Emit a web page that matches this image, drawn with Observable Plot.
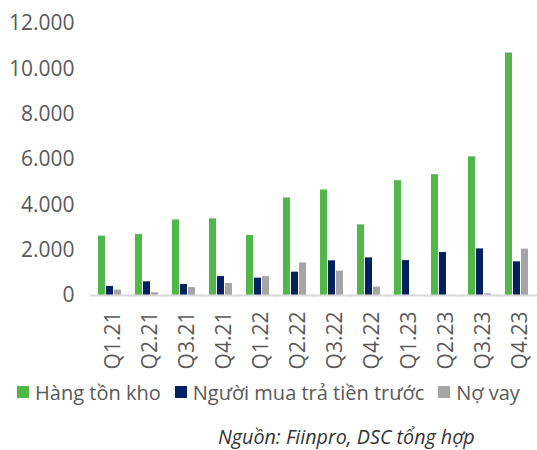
<!DOCTYPE html>
<html>
<head>
<meta charset="utf-8">
<script src="https://cdn.jsdelivr.net/npm/d3@7"></script>
<script src="https://cdn.jsdelivr.net/npm/@observablehq/plot@0.6"></script>
<style>
  html, body { margin: 0; padding: 0; background: #fff; }
  body { width: 537px; height: 450px; overflow: hidden; font-family: "Open Sans", sans-serif; }
  #legend { display: flex; justify-content: center; align-items: center; height: 26px; margin-top: 7px; font-size: 20px; color: #595959; white-space: nowrap; }
  #legend .item { display: flex; align-items: center; margin: 0 7px; }
  #legend .sw { width: 12px; height: 12px; margin-right: 6px; }
  #caption { height: 26px; margin-top: 19px; padding-left: 218px; font-size: 19.7px; font-style: italic; color: #333; line-height: 26px; white-space: nowrap; }
</style>
</head>
<body>
<div id="chart"></div>
<div id="legend"></div>
<div id="caption">Nguồn: Fiinpro, DSC tổng hợp</div>
<script>
const quarters = ["Q1.21","Q2.21","Q3.21","Q4.21","Q1.22","Q2.22","Q3.22","Q4.22","Q1.23","Q2.23","Q3.23","Q4.23"];
const seriesNames = ["Hàng tồn kho","Người mua trả tiền trước","Nợ vay"];
const hangTonKho = [2620, 2690, 3335, 3380, 2645, 4305, 4655, 3115, 5065, 5330, 6120, 10700];
const nguoiMua = [400, 605, 485, 835, 765, 1030, 1530, 1660, 1540, 1895, 2055, 1485];
const noVay = [240, 120, 350, 530, 835, 1440, 1075, 370, 10, 5, 75, 2045];
const colors = ["#50b848", "#002060", "#a5a5a5"];
const yTicks = [0, 2000, 4000, 6000, 8000, 10000, 12000];

const seriesValues = [hangTonKho, nguoiMua, noVay];
const data = [];
quarters.forEach((q, i) => {
  seriesNames.forEach((s, j) => data.push({q, s, v: seriesValues[j][i]}));
});

const fmt = v => d3.format(",")(v).replace(/,/g, ".");

const chart = Plot.plot({
  width: 537,
  height: 372,
  marginLeft: 90,
  marginRight: 0,
  marginTop: 23,
  marginBottom: 77,
  style: { fontFamily: "Open Sans, sans-serif", fontSize: "21px", color: "#595959", background: "#fff", overflow: "visible" },
  fx: { domain: quarters, paddingInner: 0.29, paddingOuter: 0.15, label: null },
  x: { domain: seriesNames, paddingInner: 0.1, paddingOuter: 0, axis: null },
  y: { domain: [0, 12000], ticks: yTicks, label: null },
  color: { domain: seriesNames, range: colors },
  marks: [
    Plot.axisY({ ticks: yTicks, tickFormat: fmt, tickSize: 0, tickPadding: 23, label: null, fill: "#595959", fontSize: 21 }),
    Plot.axisFx({ anchor: "bottom", tickRotate: -90, tickSize: 0, tickPadding: 16, dx: 3, label: null, fill: "#595959", fontSize: 21 }),
    Plot.barY(data, { fx: "q", x: "s", y: "v", fill: "s" }),
    Plot.ruleY(quarters.map(q => ({q, v: 0})), { fx: "q", y: "v", stroke: "#d9d9d9", strokeWidth: 2, insetLeft: -7, insetRight: -7 })
  ]
});
document.getElementById("chart").appendChild(chart);

const legend = document.getElementById("legend");
seriesNames.forEach((s, i) => {
  const item = document.createElement("div");
  item.className = "item";
  const sw = document.createElement("span");
  sw.className = "sw";
  sw.style.background = colors[i];
  const t = document.createElement("span");
  t.textContent = s;
  item.appendChild(sw);
  item.appendChild(t);
  legend.appendChild(item);
});
</script>
</body>
</html>
